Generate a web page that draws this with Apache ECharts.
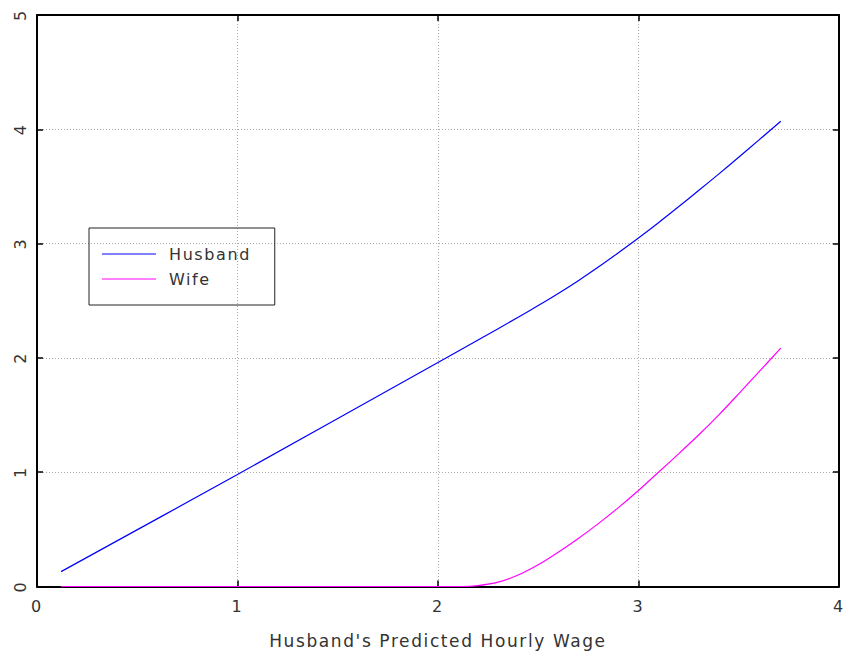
<!DOCTYPE html>
<html>
<head>
<meta charset="utf-8">
<script src="https://cdn.jsdelivr.net/npm/echarts@6/dist/echarts.min.js"></script>
<style>
html,body{margin:0;padding:0;background:#fff;}
#chart{width:847px;height:660px;}
#chart svg text{letter-spacing:1.6px;}
</style>
</head>
<body>
<div id="chart"></div>
<script>
const xTicks = [0, 1, 2, 3, 4];
const yTicks = [0, 1, 2, 3, 4, 5];
const xTitle = "Husband's Predicted Hourly Wage";
const seriesNames = ["Husband", "Wife"];
const husbandX = [0.12, 1.0, 2.0, 2.2, 2.4, 2.5, 2.6, 2.7, 2.8, 2.9, 3.0, 3.1, 3.2, 3.3, 3.4, 3.5, 3.6, 3.71];
const husbandY = [0.13, 0.98, 1.96, 2.156, 2.356, 2.458, 2.564, 2.676, 2.795, 2.92, 3.049, 3.183, 3.322, 3.464, 3.608, 3.755, 3.905, 4.071];
const wifeX = [0.12, 1.0, 2.0, 2.12, 2.2, 2.3, 2.4, 2.5, 2.6, 2.7, 2.8, 2.9, 3.0, 3.1, 3.2, 3.3, 3.4, 3.5, 3.6, 3.71];
const wifeY = [0, 0, 0, 0, 0.008, 0.038, 0.1, 0.19, 0.3, 0.42, 0.55, 0.69, 0.84, 1.0, 1.16, 1.325, 1.5, 1.686, 1.876, 2.085];

const font = 'DejaVu Sans';
const pair = (xs, ys) => xs.map((x, i) => [x, ys[i]]);

const chart = echarts.init(document.getElementById('chart'), null, {renderer: 'svg'});
const frameLine = {show: true, onZero: false, lineStyle: {color: '#000', width: 2}};
const inTicks = {show: true, inside: true, length: 6, lineStyle: {color: '#000', width: 1.5}};
const grid = {show: true, lineStyle: {color: '#aaa', type: [1, 2], width: 1}};
chart.setOption({
  animation: false,
  backgroundColor: '#fff',
  grid: {left: 37, right: 7, top: 15, bottom: 73.5},
  legend: {
    left: 89, top: 228, orient: 'vertical',
    data: seriesNames.map(n => ({name: n, icon: 'rect'})),
    itemWidth: 54, itemHeight: 1, itemGap: 7,
    padding: [17, 35, 17, 13],
    borderColor: '#222', borderWidth: 1,
    textStyle: {fontFamily: font, fontSize: 16, color: '#333', lineHeight: 18, padding: [0, 0, 0, 8]}
  },
  xAxis: [{
    type: 'value', min: xTicks[0], max: xTicks[xTicks.length - 1], interval: 1,
    position: 'bottom',
    name: xTitle, nameLocation: 'middle', nameGap: 46,
    nameTextStyle: {fontFamily: font, fontSize: 17, color: '#333'},
    axisLine: frameLine, axisTick: inTicks, splitLine: grid,
    axisLabel: {fontFamily: font, fontSize: 16, color: '#333', margin: 12}
  }, {
    type: 'value', min: xTicks[0], max: xTicks[xTicks.length - 1], interval: 1,
    position: 'top', axisLine: frameLine, axisTick: inTicks,
    axisLabel: {show: false}, splitLine: {show: false}
  }],
  yAxis: [{
    type: 'value', min: yTicks[0], max: yTicks[yTicks.length - 1], interval: 1,
    position: 'left',
    axisLine: frameLine, axisTick: inTicks, splitLine: grid,
    axisLabel: {fontFamily: font, fontSize: 16, color: '#333', rotate: 90, margin: 9}
  }, {
    type: 'value', min: yTicks[0], max: yTicks[yTicks.length - 1], interval: 1,
    position: 'right', axisLine: frameLine, axisTick: inTicks,
    axisLabel: {show: false}, splitLine: {show: false}
  }],
  series: [{
    name: seriesNames[0], type: 'line', data: pair(husbandX, husbandY),
    symbol: 'none', smooth: 0.3, color: '#0000ff',
    lineStyle: {color: '#0000ff', width: 1.2}, z: 3
  }, {
    name: seriesNames[1], type: 'line', data: pair(wifeX, wifeY),
    symbol: 'none', smooth: 0.3, color: '#ff00ff',
    lineStyle: {color: '#ff00ff', width: 1.2}, z: 4
  }]
});
</script>
</body>
</html>
